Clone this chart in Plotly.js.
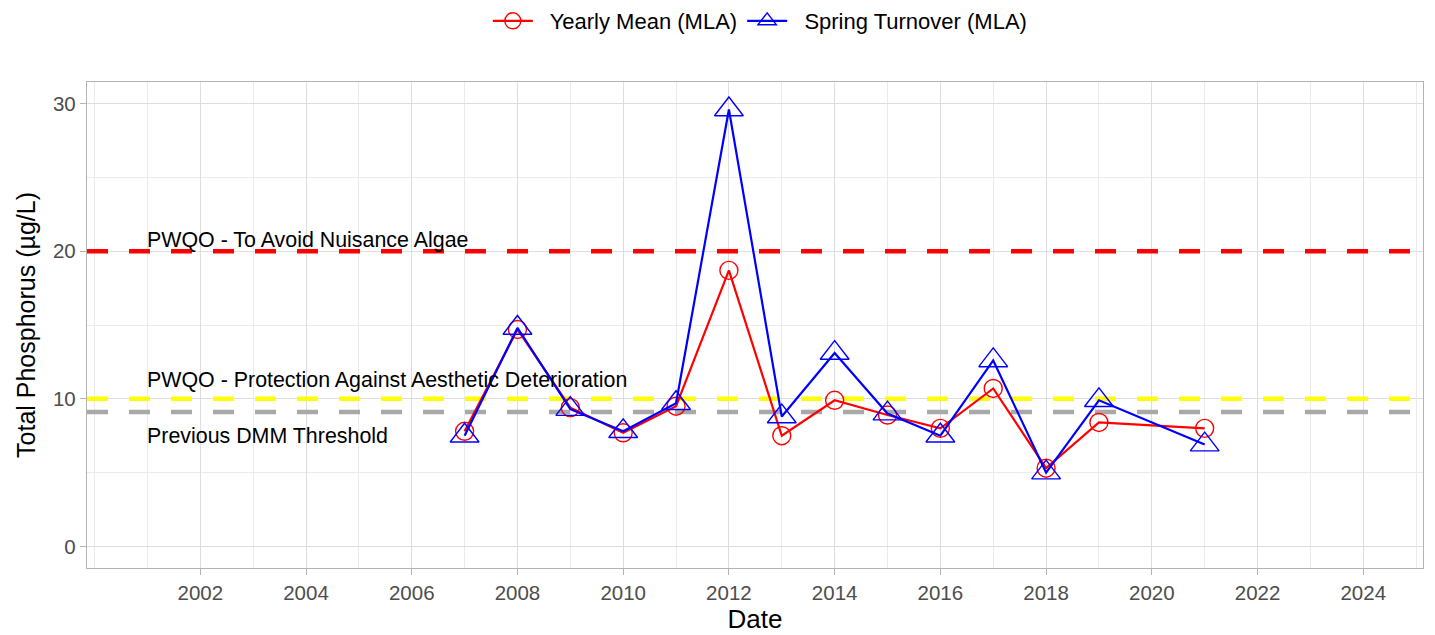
<!DOCTYPE html>
<html>
<head>
<meta charset="utf-8">
<script src="https://cdn.plot.ly/plotly-3.0.1.min.js"></script>
<style>html,body{margin:0;padding:0;background:#fff;}#chart{width:1435px;height:635px;}</style>
</head>
<body>
<div id="chart"></div>
<script>
const meanYears = [2007, 2008, 2009, 2010, 2011, 2012, 2013, 2014, 2015, 2016, 2017, 2018, 2019, 2021];
const meanValues = [7.8, 14.7, 9.4, 7.7, 9.5, 18.7, 7.5, 9.9, 8.9, 8.0, 10.7, 5.3, 8.4, 8.0];
const springYears = [2007, 2008, 2009, 2010, 2011, 2012, 2013, 2014, 2015, 2016, 2017, 2018, 2019, 2021];
const springValues = [7.5, 14.8, 9.3, 7.8, 9.7, 29.6, 8.8, 13.1, 9.0, 7.5, 12.6, 5.0, 9.9, 6.9];
const thresholdValues = [20, 10, 9.1];
const thresholdColors = ['#FF0000', '#FFFF00', '#A9A9A9'];
const thresholdLabels = ['PWQO - To Avoid Nuisance Algae', 'PWQO - Protection Against Aesthetic Deterioration', 'Previous DMM Threshold'];
const labelYears = [2001, 2001, 2001];
const labelValues = [20.78, 11.28, 7.5];
const xRange = [1999.857, 2025.13];
const yRange = [-1.46, 31.46];
const tickYears = [2002, 2004, 2006, 2008, 2010, 2012, 2014, 2016, 2018, 2020, 2022, 2024];
const yTicks = [0, 10, 20, 30];

const font = 'Liberation Sans, Arial, sans-serif';

const thresholdTraces = thresholdValues.map((v, i) => ({
  x: xRange, y: [v, v], type: 'scatter', mode: 'lines',
  showlegend: false, hoverinfo: 'skip', cliponaxis: true,
  line: {color: thresholdColors[i], width: 4.5, dash: '21px,21px'}
}));

const traces = thresholdTraces.concat([
  {
    x: meanYears, y: meanValues, type: 'scatter', mode: 'lines+markers',
    name: '  Yearly Mean (MLA)',
    line: {color: '#FF0000', width: 2.2},
    marker: {symbol: 'circle-open', size: 18, color: '#FF0000', line: {width: 1.4, color: '#FF0000'}}
  },
  {
    x: springYears, y: springValues, type: 'scatter', mode: 'lines+markers',
    name: '  Spring Turnover (MLA)',
    line: {color: '#0000FF', width: 2.2},
    marker: {symbol: 'triangle-up-open', size: 25, color: '#0000FF', line: {width: 1.4, color: '#0000FF'}}
  }
]);

const annotations = thresholdLabels.map((t, i) => ({
  x: labelYears[i], y: labelValues[i], xref: 'x', yref: 'y',
  text: t, showarrow: false, xanchor: 'left', yanchor: 'middle', xshift: -2,
  font: {family: font, size: 21.4, color: '#000000'}
}));

const layout = {
  width: 1435, height: 635,
  margin: {l: 87, r: 12, t: 82, b: 67},
  paper_bgcolor: '#FFFFFF', plot_bgcolor: '#FFFFFF',
  font: {family: font},
  showlegend: true,
  legend: {
    orientation: 'h', x: 0.504, xanchor: 'center', y: 1.0, yref: 'container', yanchor: 'top',
    font: {family: font, size: 22, color: '#000000'},
    itemwidth: 40, tracegroupgap: 0
  },
  xaxis: {
    range: xRange,
    tickmode: 'array', tickvals: tickYears, ticktext: tickYears.map(String),
    showgrid: true, gridcolor: '#DEDEDE', gridwidth: 1,
    minor: {tick0: 2000, dtick: 1, showgrid: true, gridcolor: '#EBEBEB', gridwidth: 0.7},
    ticks: 'outside', ticklen: 6, tickcolor: '#B3B3B3', tickwidth: 1,
    tickfont: {family: font, size: 20.5, color: '#4D4D4D'},
    showline: true, mirror: true, linecolor: '#B3B3B3', linewidth: 1.3,
    zeroline: false,
    title: {text: 'Date', font: {family: font, size: 26, color: '#000000'}, standoff: 4}
  },
  yaxis: {
    range: yRange,
    tickmode: 'array', tickvals: yTicks,
    showgrid: true, gridcolor: '#DEDEDE', gridwidth: 1,
    minor: {tick0: 5, dtick: 10, showgrid: true, gridcolor: '#EBEBEB', gridwidth: 0.7},
    ticks: 'outside', ticklen: 6, tickcolor: '#B3B3B3', tickwidth: 1,
    tickfont: {family: font, size: 20.5, color: '#4D4D4D'},
    showline: true, mirror: true, linecolor: '#B3B3B3', linewidth: 1.3,
    zeroline: false,
    title: {text: 'Total Phosphorus (µg/L)', font: {family: font, size: 25, color: '#000000'}, standoff: 10}
  },
  annotations: annotations
};

Plotly.newPlot('chart', traces, layout, {displayModeBar: false, responsive: false});
</script>
</body>
</html>
